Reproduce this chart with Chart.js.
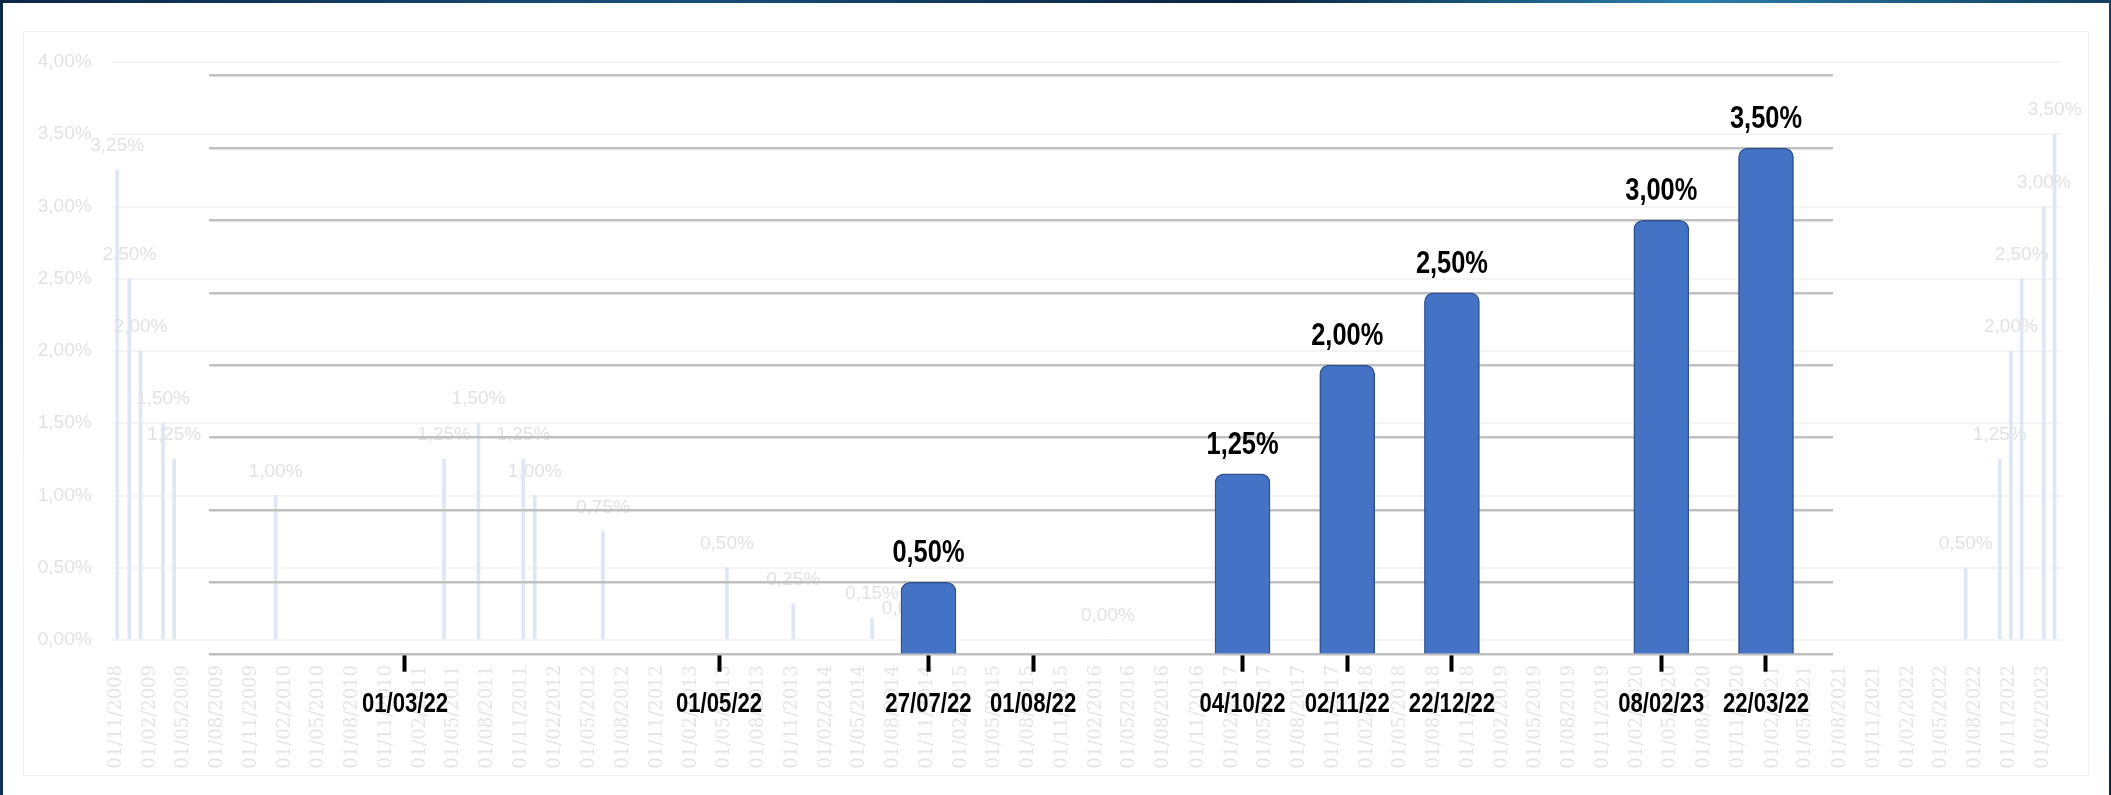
<!DOCTYPE html>
<html>
<head>
<meta charset="utf-8">
<script src="https://cdn.jsdelivr.net/npm/chart.js@4.4.1/dist/chart.umd.min.js"></script>
<style>
  html, body { margin: 0; padding: 0; width: 2111px; height: 795px; overflow: hidden; }
  body { position: relative; background: linear-gradient(100deg, #0d2747 0%, #1b4f7a 30%, #0c2340 55%, #2a7fa8 75%, #0d2747 100%); }
  #card { position: absolute; left: 3px; top: 3px; right: 2px; bottom: 0; background: #ffffff; }
  #frame { position: absolute; left: 23px; top: 31px; width: 2064px; height: 743px; border: 1px solid #f2f2f2; }
  canvas { position: absolute; left: 0; top: 0; }
</style>
</head>
<body>
<div id="card"></div>
<div id="frame"></div>
<canvas id="ghost" width="2111" height="795"></canvas>
<canvas id="main" width="2111" height="795"></canvas>
<script>
// ---- Foreground chart data (blank entries are empty slots on the axis) ----
const categories = ['01/03/22', '', '', '01/05/22', '', '27/07/22', '01/08/22', '', '04/10/22', '02/11/22', '22/12/22', '', '08/02/23', '22/03/22'];
const rates      = [null, null, null, null, null, 0.50, null, null, 1.25, 2.00, 2.50, null, 3.00, 3.50];

// ---- Faded background chart data ----
const ghostDates = ['2008-11-04', '2008-12-07', '2009-01-06', '2009-03-08', '2009-04-07', '2010-01-06',
                    '2011-04-06', '2011-07-08', '2011-11-06', '2011-12-07', '2012-06-08', '2013-05-09',
                    '2013-11-04', '2014-06-05', '2014-09-12', '2016-03-03', '2022-07-07', '2022-10-07',
                    '2022-11-06', '2022-12-05', '2023-02-03', '2023-03-04'];
const ghostRates = [3.25, 2.50, 2.00, 1.50, 1.25, 1.00,
                    1.25, 1.50, 1.25, 1.00, 0.75, 0.50,
                    0.25, 0.15, 0.05, 0.00, 0.50, 1.25,
                    2.00, 2.50, 3.00, 3.50];
const ghostTickLabels = ['01/11/2008',
  '01/02/2009', '01/05/2009', '01/08/2009', '01/11/2009',
  '01/02/2010', '01/05/2010', '01/08/2010', '01/11/2010',
  '01/02/2011', '01/05/2011', '01/08/2011', '01/11/2011',
  '01/02/2012', '01/05/2012', '01/08/2012', '01/11/2012',
  '01/02/2013', '01/05/2013', '01/08/2013', '01/11/2013',
  '01/02/2014', '01/05/2014', '01/08/2014', '01/11/2014',
  '01/02/2015', '01/05/2015', '01/08/2015', '01/11/2015',
  '01/02/2016', '01/05/2016', '01/08/2016', '01/11/2016',
  '01/02/2017', '01/05/2017', '01/08/2017', '01/11/2017',
  '01/02/2018', '01/05/2018', '01/08/2018', '01/11/2018',
  '01/02/2019', '01/05/2019', '01/08/2019', '01/11/2019',
  '01/02/2020', '01/05/2020', '01/08/2020', '01/11/2020',
  '01/02/2021', '01/05/2021', '01/08/2021', '01/11/2021',
  '01/02/2022', '01/05/2022', '01/08/2022', '01/11/2022',
  '01/02/2023'];

const fmtPct = v => v.toFixed(2).replace('.', ',') + '%';
const dayNum = iso => { const [y, m, d] = iso.split('-').map(Number); return Date.UTC(y, m - 1, d) / 86400000; };
const dayFromDMY = s => { const [d, m, y] = s.split('/'); return dayNum(y + '-' + m + '-' + d); };

const SANS = "'Liberation Sans', Arial, sans-serif";

// value labels above bars (optionally squeezed horizontally to mimic a narrow face)
const valueLabels = {
  id: 'valueLabels',
  afterDatasetsDraw(chart, args, opts) {
    const ctx = chart.ctx;
    chart.data.datasets.forEach((ds, di) => {
      chart.getDatasetMeta(di).data.forEach((el, i) => {
        const v = ds.data[i].y;
        if (v === null || v === undefined) return;
        ctx.save();
        ctx.font = opts.font;
        ctx.fillStyle = opts.color;
        ctx.textAlign = 'center';
        ctx.textBaseline = 'alphabetic';
        ctx.translate(el.x, el.y - opts.offset);
        ctx.scale(opts.squeeze || 1, 1);
        ctx.fillText(fmtPct(v), 0, 0);
        ctx.restore();
      });
    });
  }
};

// x tick labels of the foreground chart, placed by the x scale, narrow bold look
const narrowTicks = {
  id: 'narrowTicks',
  afterDraw(chart, args, opts) {
    const s = chart.scales.x, ctx = chart.ctx;
    s.ticks.forEach(t => {
      const x = s.getPixelForValue(t.value);
      ctx.save();
      ctx.font = opts.font;
      ctx.fillStyle = opts.color;
      ctx.textAlign = 'center';
      ctx.textBaseline = 'alphabetic';
      ctx.translate(x, s.top + opts.offset);
      ctx.scale(opts.squeeze, 1);
      ctx.fillText(categories[t.value], 0, 0);
      ctx.restore();
    });
  }
};

// ---- Faded background chart ----
new Chart(document.getElementById('ghost'), {
  type: 'bar',
  data: {
    datasets: [{
      data: ghostDates.map((d, i) => ({ x: dayNum(d), y: ghostRates[i] })),
      backgroundColor: '#dfe7f5',
      borderWidth: 0,
      barThickness: 3
    }]
  },
  options: {
    responsive: false, animation: false, devicePixelRatio: 1,
    layout: { padding: { left: 0, right: 49, top: 62, bottom: 0 } },
    plugins: {
      legend: { display: false }, tooltip: { enabled: false },
      valueLabels: { font: "19px " + SANS, color: '#e2e2e2', offset: 19, squeeze: 1 }
    },
    scales: {
      x: {
        type: 'linear', offset: false,
        min: dayNum('2008-10-20'), max: dayNum('2023-03-24'),
        afterBuildTicks: s => { s.ticks = ghostTickLabels.map(l => ({ value: dayFromDMY(l) })); },
        afterFit: s => { s.height = 155; },
        border: { display: false },
        grid: { display: false, offset: false },
        ticks: {
          autoSkip: false, minRotation: 90, maxRotation: 90, padding: 17,
          color: '#e4e4e4', font: { family: "'DejaVu Serif', serif", size: 18 },
          callback: (v, i) => ghostTickLabels[i]
        }
      },
      y: {
        min: 0, max: 4,
        afterFit: s => { s.width = 111.6; },
        border: { display: false },
        grid: { color: '#f4f4f4', lineWidth: 2, drawTicks: false },
        ticks: { stepSize: 0.5, padding: 20, color: '#e2e2e2', font: { family: SANS, size: 19 }, callback: v => fmtPct(v) }
      }
    }
  },
  plugins: [valueLabels]
});

// ---- Foreground chart ----
new Chart(document.getElementById('main'), {
  type: 'bar',
  data: {
    datasets: [{
      data: categories.map((c, i) => ({ x: i, y: rates[i] })),
      backgroundColor: '#4472c4',
      borderColor: '#2f528f',
      borderWidth: 1.5,
      borderSkipped: 'bottom',
      borderRadius: { topLeft: 9, topRight: 9, bottomLeft: 0, bottomRight: 0 },
      barThickness: 55
    }]
  },
  options: {
    responsive: false, animation: false, devicePixelRatio: 1,
    layout: { padding: { left: 209, right: 278, top: 75.7, bottom: 0 } },
    plugins: {
      legend: { display: false }, tooltip: { enabled: false },
      valueLabels: { font: "bold 31px " + SANS, color: '#000000', offset: 20, squeeze: 0.82 },
      narrowTicks: { font: "bold 27px " + SANS, color: '#000000', offset: 57, squeeze: 0.82 }
    },
    scales: {
      x: {
        type: 'linear', offset: false,
        min: -1.872, max: 13.64,
        afterBuildTicks: s => { s.ticks = categories.map((c, i) => c ? { value: i } : null).filter(Boolean); },
        afterFit: s => { s.height = 140.3; },
        border: { display: false },
        grid: { display: true, offset: false, drawOnChartArea: false, drawTicks: true, tickLength: 17, tickWidth: 4, tickColor: '#000000' },
        ticks: { display: false, autoSkip: false, minRotation: 0, maxRotation: 0 }
      },
      y: {
        min: 0, max: 4,
        afterFit: s => { s.width = 0; },
        border: { display: false },
        grid: { color: '#c0c0c0', lineWidth: 2.5, drawTicks: false },
        ticks: { display: false, stepSize: 0.5 }
      }
    }
  },
  plugins: [valueLabels, narrowTicks]
});
</script>
</body>
</html>
